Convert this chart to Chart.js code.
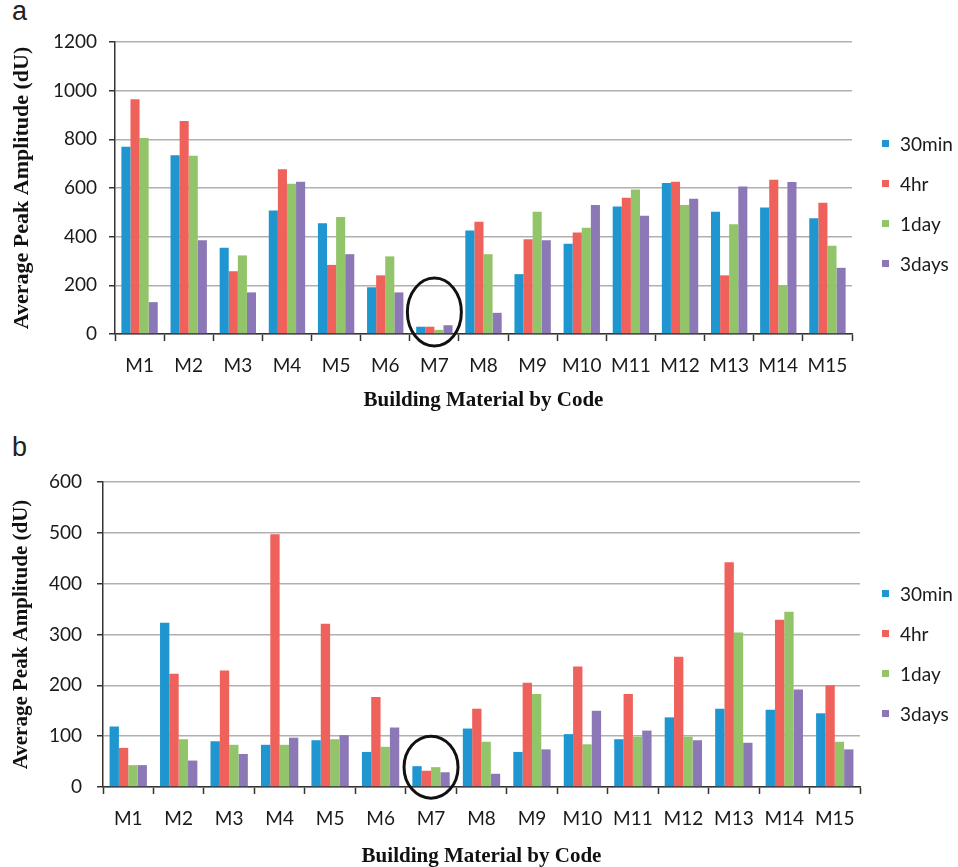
<!DOCTYPE html>
<html>
<head>
<meta charset="utf-8">
<script src="https://cdn.jsdelivr.net/npm/chart.js@4.4.1/dist/chart.umd.min.js"></script>
<style>
    body { margin: 0; width: 958px; height: 867px; overflow: hidden; background: #fff; position: relative; }
    canvas { position: absolute; left: 0; }
    .panel { position: absolute; left: 12px; font-family: "Liberation Sans", Arial, sans-serif; font-size: 27px; color: #222; }
    .legend { position: absolute; left: 882px; font-family: Lato, sans-serif; font-size: 19px; color: #1a1a1a; white-space: nowrap; }
    .legend div { height: 40px; display: flex; align-items: center; }
    .legend span.box { width: 7px; height: 7px; margin-right: 11px; display: inline-block; }
</style>
</head>
<body>
<div class="panel" style="top:-4px">a</div>
<canvas id="chartA" width="958" height="414" style="top:0"></canvas>
<div class="legend" id="legendA" style="top:123px"></div>

<div class="panel" style="top:432px">b</div>
<canvas id="chartB" width="958" height="429" style="top:438px"></canvas>
<div class="legend" id="legendB" style="top:573px"></div>

<script>
// Building materials M1..M15
const materials = ['M1','M2','M3','M4','M5','M6','M7','M8','M9','M10','M11','M12','M13','M14','M15'];
const seriesNames = ['30min', '4hr', '1day', '3days'];
const seriesColors = ['#1f96d0', '#ef625c', '#92c56a', '#8c78b6'];

// panel a
const a30min = [770, 735, 354, 508, 455, 192, 30, 425, 246, 371, 524, 621, 502, 520, 476];
const a4hr   = [965, 875, 258, 677, 284, 241, 30, 461, 389, 417, 560, 626, 241, 634, 539];
const a1day  = [805, 733, 323, 617, 481, 319, 17, 328, 502, 437, 594, 530, 451, 200, 363];
const a3days = [131, 385, 171, 626, 328, 171, 36,  87, 385, 530, 486, 556, 606, 625, 272];

// panel b
const b30min = [119, 323,  90,  83,  92,  69, 41, 115,  69, 104,  94, 137, 154, 152, 145];
const b4hr   = [ 77, 223, 229, 497, 321, 177, 32, 154, 205, 237, 183, 256, 442, 329, 200];
const b1day  = [ 43,  94,  83,  83,  94,  79, 39,  89, 183,  84,  99,  99, 304, 345,  89];
const b3days = [ 43,  52,  65,  97, 102, 117, 29,  26,  74, 150, 111,  92,  87, 192,  74];

const yTicksA = [0, 200, 400, 600, 800, 1000, 1200];
const yTicksB = [0, 100, 200, 300, 400, 500, 600];

// ellipse round the M7 group
const circleMark = {
    id: 'circleMark',
    afterDatasetsDraw(chart, args, opts) {
        const {ctx, scales: {x, y}} = chart;
        const cx = x.getPixelForValue(materials.indexOf(opts.label));
        const cy = y.getPixelForValue(opts.value);
        ctx.save();
        ctx.beginPath();
        ctx.ellipse(cx, cy, opts.rx, opts.ry, 0, 0, Math.PI * 2);
        ctx.lineWidth = 3;
        ctx.strokeStyle = '#111';
        ctx.stroke();
        ctx.restore();
    }
};

function buildLegend(chart, id) {
    const box = document.getElementById(id);
    box.innerHTML = '';
    chart.data.datasets.forEach(ds => {
        const row = document.createElement('div');
        const sq = document.createElement('span');
        sq.className = 'box';
        sq.style.background = ds.backgroundColor;
        row.appendChild(sq);
        row.appendChild(document.createTextNode(ds.label));
        box.appendChild(row);
    });
}

function makeChart(canvasId, values, yTicks, o) {
    const datasets = values.map((data, i) => ({
        label: seriesNames[i],
        data: data,
        backgroundColor: seriesColors[i],
        borderWidth: 0,
        categoryPercentage: 0.74,
        barPercentage: 1.0
    }));
    return new Chart(document.getElementById(canvasId), {
        type: 'bar',
        data: { labels: materials, datasets: datasets },
        options: {
            responsive: false,
            animation: false,
            layout: { padding: { top: o.padTop, right: o.padRight, left: 0, bottom: 0 } },
            plugins: {
                legend: { display: false },
                tooltip: { enabled: false },
                circleMark: o.circle
            },
            scales: {
                x: {
                    afterFit: s => { s.height = 80; },
                    grid: { display: true, offset: true, drawOnChartArea: false, tickLength: 7, tickColor: '#333', tickWidth: 1.5 },
                    border: { color: '#333', width: 1.5 },
                    ticks: { padding: 13, color: '#1a1a1a', font: { family: 'Lato', size: 19 } },
                    title: {
                        display: true,
                        text: 'Building Material by Code',
                        color: '#111',
                        font: { family: '"Liberation Serif", "Times New Roman", serif', size: 21, weight: 'bold', lineHeight: 1 },
                        padding: { top: 0, bottom: o.xTitlePad }
                    }
                },
                y: {
                    min: yTicks[0],
                    max: yTicks[yTicks.length - 1],
                    afterFit: s => { s.width = o.yWidth; },
                    afterBuildTicks: s => { s.ticks = yTicks.map(v => ({ value: v })); },
                    grid: { color: '#b0b0b0', lineWidth: 1.5, tickLength: 6, tickColor: '#333', tickWidth: 1.5 },
                    border: { color: '#333', width: 1.5 },
                    ticks: {
                        padding: o.yTickPad,
                        color: '#1a1a1a',
                        font: { family: 'Lato', size: 19 },
                        callback: v => String(v)
                    },
                    title: {
                        display: true,
                        text: 'Average Peak Amplitude (dU)',
                        color: '#111',
                        font: { family: '"Liberation Serif", "Times New Roman", serif', size: o.yTitleSize, weight: 'bold' },
                        padding: { top: 9, bottom: 0 }
                    }
                }
            }
        },
        plugins: [circleMark]
    });
}

const chartA = makeChart('chartA', [a30min, a4hr, a1day, a3days], yTicksA, {
    padTop: 42, padRight: 106, yWidth: 115, yTickPad: 12, yTitleSize: 22, xTitlePad: 3,
    circle: { label: 'M7', value: 90, rx: 27, ry: 34 }
});
buildLegend(chartA, 'legendA');

const chartB = makeChart('chartB', [b30min, b4hr, b1day, b3days], yTicksB, {
    padTop: 44, padRight: 98, yWidth: 103, yTickPad: 15, yTitleSize: 21, xTitlePad: 0,
    circle: { label: 'M7', value: 39, rx: 27, ry: 31 }
});
buildLegend(chartB, 'legendB');
</script>
</body>
</html>
